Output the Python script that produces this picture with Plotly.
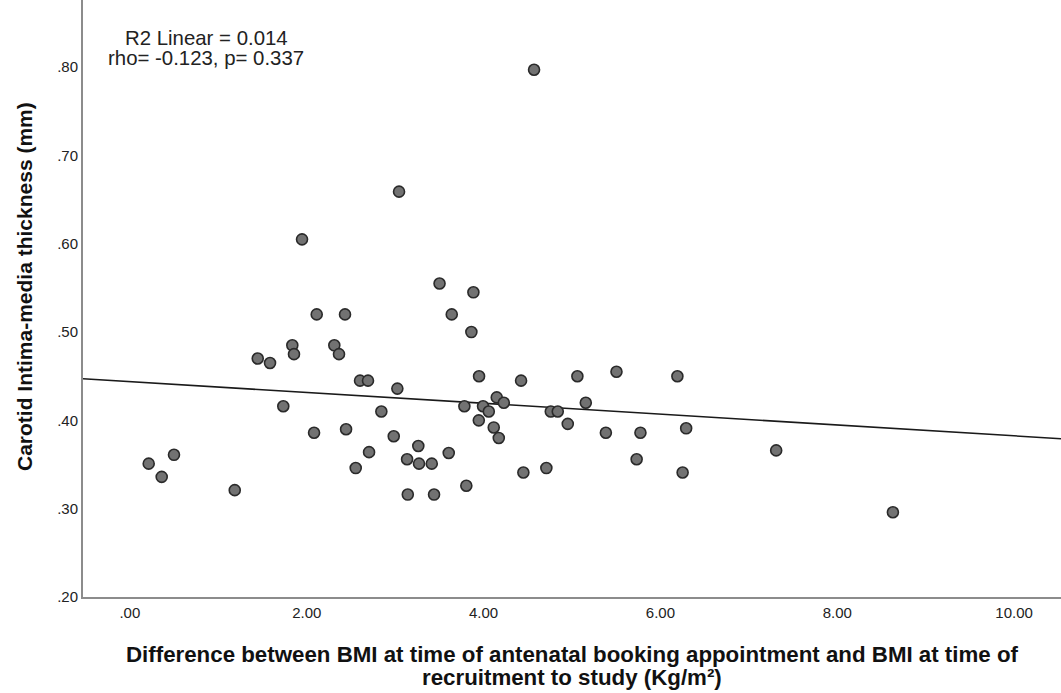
import numpy as np
import plotly.graph_objects as go

# Data
bmi_diff = [0.213, 0.360, 0.499, 1.186, 1.446, 1.585, 1.735, 1.837, 1.856, 1.947,
            2.083, 2.113, 2.312, 2.365, 2.433, 2.445, 2.554, 2.603, 2.693, 2.705,
            2.844, 2.984, 3.025, 3.044, 3.135, 3.143, 3.262, 3.270, 3.414, 3.440,
            3.502, 3.606, 3.640, 3.783, 3.805, 3.862, 3.885, 3.946, 3.949, 3.994,
            4.059, 4.115, 4.149, 4.172, 4.229, 4.424, 4.450, 4.571, 4.710, 4.760,
            4.839, 4.952, 5.061, 5.156, 5.383, 5.503, 5.731, 5.774, 6.192, 6.251,
            6.291, 7.309, 8.629]
cimt = [0.351, 0.336, 0.361, 0.321, 0.470, 0.465, 0.416, 0.485, 0.475, 0.605,
        0.386, 0.520, 0.485, 0.475, 0.520, 0.390, 0.346, 0.445, 0.445, 0.364,
        0.410, 0.382, 0.436, 0.659, 0.356, 0.316, 0.371, 0.351, 0.351, 0.316,
        0.555, 0.363, 0.520, 0.416, 0.326, 0.500, 0.545, 0.400, 0.450, 0.416,
        0.410, 0.392, 0.426, 0.380, 0.420, 0.445, 0.341, 0.797, 0.346, 0.410,
        0.410, 0.396, 0.450, 0.420, 0.386, 0.455, 0.356, 0.386, 0.450, 0.341,
        0.391, 0.366, 0.296]

x_tick_vals = [0, 2, 4, 6, 8, 10]
x_tick_text = [".00", "2.00", "4.00", "6.00", "8.00", "10.00"]
y_tick_vals = [0.2, 0.3, 0.4, 0.5, 0.6, 0.7, 0.8]
y_tick_text = [".20", ".30", ".40", ".50", ".60", ".70", ".80"]

stats_lines = ["R2 Linear = 0.014", "rho= -0.123, p= 0.337"]
x_title_lines = ["Difference between BMI at time of antenatal booking appointment and BMI at time of",
                 "recruitment to study (Kg/m²)"]
y_title = "Carotid Intima-media thickness (mm)"

x_range = [-0.53, 10.53]
y_range = [0.2, 0.876]

W, H = 1061, 693
ML, MR, MT, MB = 83, 0, 0, 96
PW, PH = W - ML - MR, H - MT - MB

# Linear fit
slope, intercept = np.polyfit(bmi_diff, cimt, 1)
fit_x = np.array(x_range)
fit_y = intercept + slope * fit_x

fig = go.Figure()
fig.add_trace(go.Scatter(
    x=fit_x, y=fit_y, mode="lines",
    line=dict(color="#1a1a1a", width=1.6),
    hoverinfo="skip", showlegend=False,
))
fig.add_trace(go.Scatter(
    x=bmi_diff, y=cimt, mode="markers",
    marker=dict(size=11, color="#727272", line=dict(color="#2a2a2a", width=1.6)),
    showlegend=False,
))

font_family = "Liberation Sans, Arial, sans-serif"

# stats text (two lines, tight spacing like the original)
for txt, cy in zip(stats_lines, [38, 58]):
    fig.add_annotation(
        text=txt, xref="paper", yref="paper",
        x=(206 - ML) / PW, y=1 - (cy - MT) / PH,
        xanchor="center", yanchor="middle", showarrow=False,
        font=dict(family=font_family, size=20.4, color="#222222"),
    )

# x axis title (two lines)
for txt, cy in zip(x_title_lines, [654, 677]):
    fig.add_annotation(
        text="<b>" + txt + "</b>", xref="paper", yref="paper",
        x=0.5, y=1 - (cy - MT) / PH,
        xanchor="center", yanchor="middle", showarrow=False,
        font=dict(family=font_family, size=22.3, color="#111111"),
    )

# y axis title
fig.add_annotation(
    text="<b>" + y_title + "</b>", xref="paper", yref="paper",
    x=(24 - ML) / PW, y=1 - (287 - MT) / PH, textangle=-90,
    xanchor="center", yanchor="middle", showarrow=False,
    font=dict(family=font_family, size=21, color="#111111"),
)

fig.update_layout(
    width=W, height=H,
    margin=dict(l=ML, r=MR, t=MT, b=MB, autoexpand=False),
    plot_bgcolor="white", paper_bgcolor="white",
    font=dict(family=font_family, color="#222222"),
    xaxis=dict(
        range=x_range, tickvals=x_tick_vals, ticktext=x_tick_text,
        showgrid=False, zeroline=False, showline=True, linecolor="#8c8c8c", linewidth=2,
        ticks="", ticklabelstandoff=1, tickfont=dict(size=15, color="#222222"),
        automargin=False,
    ),
    yaxis=dict(
        range=y_range, tickvals=y_tick_vals, ticktext=y_tick_text,
        showgrid=False, zeroline=False, showline=True, linecolor="#8c8c8c", linewidth=2,
        ticks="", tickfont=dict(size=15, color="#222222"),
        automargin=False,
    ),
)

fig.write_html("out.html", config={"displayModeBar": False})

# remove the default page margin so the figure sits at the window origin
with open("out.html", "r", encoding="utf-8") as f:
    html = f.read()
html = html.replace("<head>", "<head><style>html,body{margin:0;padding:0;overflow:hidden;}</style>", 1)
with open("out.html", "w", encoding="utf-8") as f:
    f.write(html)
